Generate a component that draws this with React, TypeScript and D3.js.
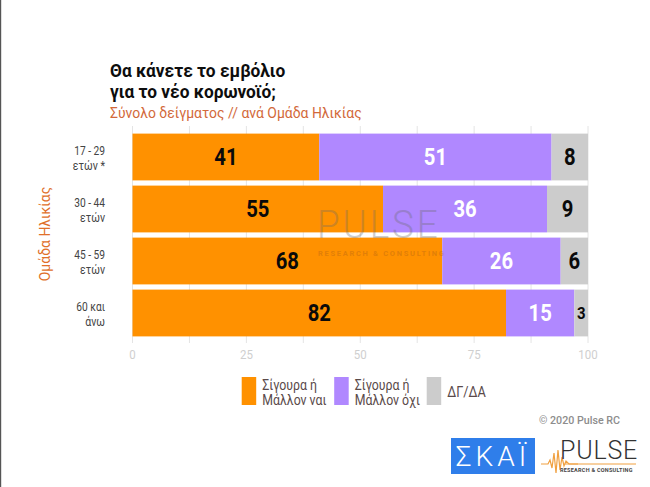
import React from "react";
import * as d3 from "d3";

const W = 650, H = 487;
const ageLine1 = ["17 - 29", "30 - 44", "45 - 59", "60 και"];
const ageLine2 = ["ετών *", "ετών", "ετών", "άνω"];
const surelyYes = [41, 55, 68, 82];
const surelyNo = [51, 36, 26, 15];
const dontKnow = [8, 9, 6, 3];
const xTicks = [0, 25, 50, 75, 100];
const minorTicks = [12.5, 37.5, 62.5, 87.5];
const seriesColors = ["#ff9100", "#b088ff", "#cccccc"];
const legendFirst = ["Σίγουρα ή", "Σίγουρα ή", "ΔΓ/ΔΑ"];
const legendSecond = ["Μάλλον ναι", "Μάλλον όχι", ""];
const waveform: [number, number][] = [[541,464],[548,464],[550,460],[552,468],[554,453],[556,473],[558,450],[560,470],[562,457],[564,466],[566,461],[569,464],[578,464]];

const FONT = "Roboto, sans-serif";

function T({ x, y, s = 1, children, anchor = "start", ...rest }: any) {
  return (
    <text transform={`translate(${x},${y}) scale(${s},1)`} textAnchor={anchor} fontFamily={FONT} {...rest}>
      {children}
    </text>
  );
}

export default function App() {
  const x = d3.scaleLinear().domain([0, 100]).range([132.5, 588]);
  const y = d3.scaleBand<number>().domain(d3.range(4)).range([131, 339]).paddingInner(0.1).paddingOuter(0.05);
  const series = [surelyYes, surelyNo, dontKnow];
  const wave = d3.line()(waveform) || "";
  return (
    <svg width={W} height={H} viewBox={`0 0 ${W} ${H}`} style={{ position: "absolute", left: 0, top: 0, background: "#fff" }}>
      <rect x={0} y={0} width={1.2} height={H} fill="#555" />
      <T x={110} y={76.5} s={0.96} fontSize={18} fontWeight={700} fill="#0d0d0d">Θα κάνετε το εμβόλιο</T>
      <T x={110} y={98} s={0.96} fontSize={18} fontWeight={700} fill="#0d0d0d">για το νέο κορωνοϊό;</T>
      <T x={110} y={118} s={0.93} fontSize={15} fill="#d2693a">Σύνολο δείγματος // ανά Ομάδα Ηλικίας</T>

      {[...xTicks, ...minorTicks].map((t) => (
        <line key={t} x1={x(t)} x2={x(t)} y1={126} y2={343} stroke="#e4e4e4" strokeWidth={1} />
      ))}

      {surelyYes.map((_, i) => {
        const stack = d3.cumsum(series.map((s) => s[i]));
        const rowY = y(i)!;
        const bh = y.bandwidth();
        return (
          <g key={i}>
            {series.map((s, k) => {
              const start = k === 0 ? 0 : stack[k - 1];
              const x0 = x(start), x1 = x(stack[k]);
              const isSmall = s[i] < 5;
              return (
                <g key={k}>
                  <rect x={x0} y={rowY} width={x1 - x0} height={bh} fill={seriesColors[k]} />
                  <T
                    x={(x0 + x1) / 2}
                    y={rowY + bh / 2 + (isSmall ? 6 : 8)}
                    s={0.88}
                    anchor="middle"
                    fontSize={isSmall ? 17 : 23}
                    fontWeight={700}
                    fill={k === 1 ? "#ffffff" : "#0a0a0a"}
                  >
                    {s[i]}
                  </T>
                </g>
              );
            })}
            <T x={105} y={rowY + bh / 2 - 2} s={0.85} anchor="end" fontSize={12} fill="#444">{ageLine1[i]}</T>
            <T x={105} y={rowY + bh / 2 + 12.5} s={0.88} anchor="end" fontSize={12} fill="#444">{ageLine2[i]}</T>
          </g>
        );
      })}

      <text transform="translate(50,234) rotate(-90) scale(0.93,1)" textAnchor="middle" fontFamily={FONT} fontSize={15} fill="#e0702a">Ομάδα Ηλικίας</text>

      {xTicks.map((t) => (
        <T key={t} x={x(t)} y={359} s={0.85} anchor="middle" fontSize={13.5} fill="#cfcfcf">{t}</T>
      ))}

      {legendFirst.map((label, i) => {
        const lx = 241.7 + i * 92.5;
        return (
          <g key={i}>
            <rect x={lx} y={377} width={14.5} height={28} fill={seriesColors[i]} />
            {legendSecond[i] ? (
              <>
                <T x={lx + 20.5} y={390} s={0.85} fontSize={14.5} fill="#5a4a4a">{label}</T>
                <T x={lx + 20.5} y={405} s={0.85} fontSize={14.5} fill="#5a4a4a">{legendSecond[i]}</T>
              </>
            ) : (
              <T x={lx + 20.5} y={397} s={0.88} fontSize={14.5} fill="#5a4a4a">{label}</T>
            )}
          </g>
        );
      })}

      <T x={539} y={423.5} s={0.93} fontSize={11.5} fontWeight={500} fill="#8d8d8d">© 2020 Pulse RC</T>

      <g opacity={0.32}>
        <T x={317} y={238} fontSize={38} fontWeight={300} letterSpacing={3} s={0.97} fill="#6a6a6a">PULSE</T>
        <T x={318} y={256} fontSize={7.5} fontWeight={700} letterSpacing={1.7} fill="#a35a1a">RESEARCH &amp; CONSULTING</T>
      </g>

      <rect x={451} y={438} width={84} height={36} fill="#2f7eea" />
      <T x={493} y={466} anchor="middle" fontSize={28} fontWeight={300} letterSpacing={4} fill="#fff">ΣΚΑΪ</T>

      <path d={wave} fill="none" stroke="#f0a040" strokeWidth={1.2} />
      <line x1={565} x2={636} y1={464} y2={464} stroke="#f0a040" strokeWidth={1} />
      <T x={560} y={459} fontSize={25} fontWeight={300} letterSpacing={0.8} fill="#333">PULSE</T>
      <T x={560} y={472} fontSize={5.5} fontWeight={700} letterSpacing={0.25} fill="#444">RESEARCH &amp; CONSULTING</T>
    </svg>
  );
}
